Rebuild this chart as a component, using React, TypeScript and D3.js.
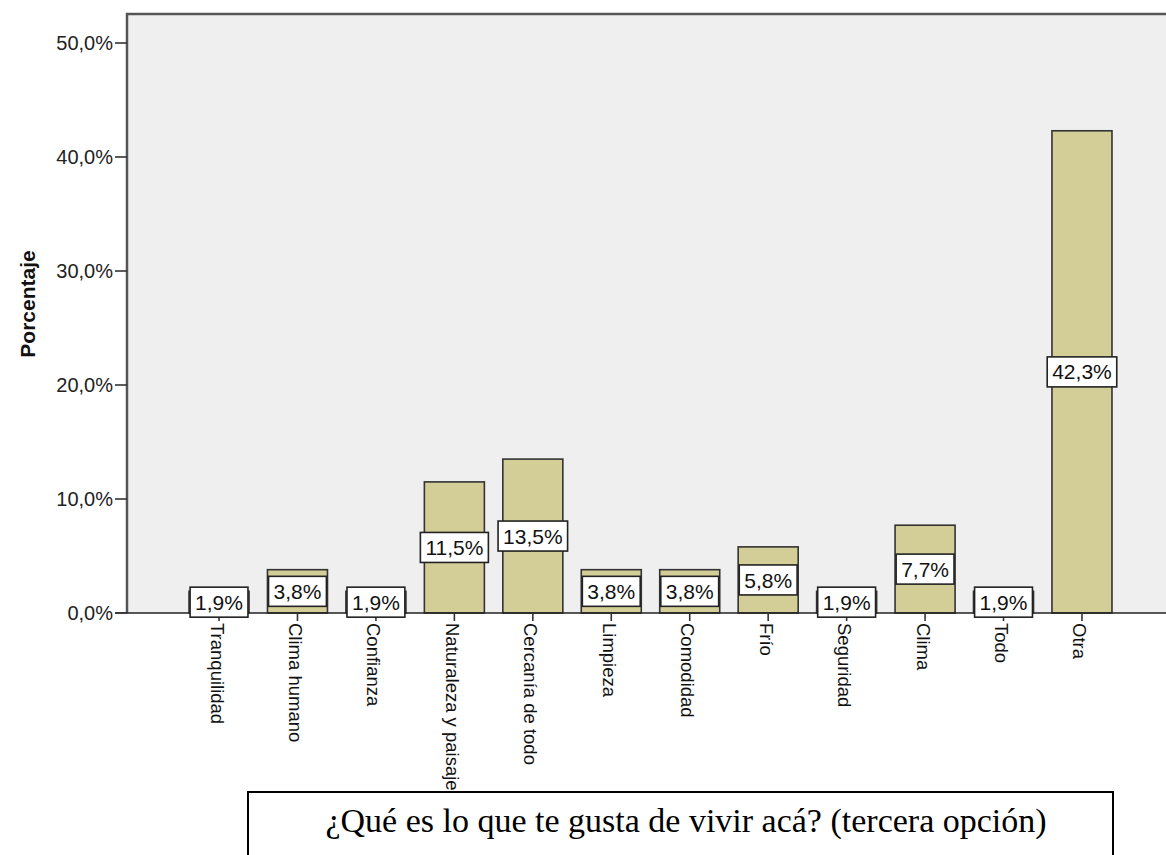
import React, { useEffect, useRef } from "react";
import * as d3 from "d3";

const categories = [
  "Tranquilidad",
  "Clima humano",
  "Confianza",
  "Naturaleza y paisaje",
  "Cercanía de todo",
  "Limpieza",
  "Comodidad",
  "Frío",
  "Seguridad",
  "Clima",
  "Todo",
  "Otra",
];
const values = [1.9, 3.8, 1.9, 11.5, 13.5, 3.8, 3.8, 5.8, 1.9, 7.7, 1.9, 42.3];
const yTicks = [0, 10, 20, 30, 40, 50];
const yTitle = "Porcentaje";
const chartTitle = "¿Qué es lo que te gusta de vivir acá? (tercera opción)";

const W = 1166;
const H = 855;

export default function App() {
  const ref = useRef<SVGSVGElement>(null);

  useEffect(() => {
    document.body.style.margin = "0";
    const svg = d3.select(ref.current);
    svg.selectAll("*").remove();

    const left = 127;
    const top = 14;
    const y0 = 613;
    const y = d3.scaleLinear().domain([0, 50]).range([y0, 43]);
    const x = d3
      .scaleBand<string>()
      .domain(categories)
      .range([219 - 39.2, 1082 + 39.2])
      .paddingInner(0.235)
      .paddingOuter(0.1175);

    const fmt = (v: number) => v.toFixed(1).replace(".", ",") + "%";
    const sans = "Arial, 'Liberation Sans', sans-serif";

    svg
      .append("rect")
      .attr("x", left)
      .attr("y", top)
      .attr("width", W - left + 10)
      .attr("height", y0 - top)
      .attr("fill", "#efefef");
    svg
      .append("path")
      .attr("d", `M${left},${y0}V${top}H${W + 5}`)
      .attr("fill", "none")
      .attr("stroke", "#555")
      .attr("stroke-width", 2.5);

    const g = svg.append("g");
    g.selectAll("rect.bar")
      .data(values)
      .join("rect")
      .attr("class", "bar")
      .attr("x", (_, i) => x(categories[i])!)
      .attr("y", (d) => y(d))
      .attr("width", x.bandwidth())
      .attr("height", (d) => y0 - y(d))
      .attr("fill", "#d3ce97")
      .attr("stroke", "#333")
      .attr("stroke-width", 1.6);

    svg
      .append("line")
      .attr("x1", left - 12)
      .attr("x2", W + 5)
      .attr("y1", y0)
      .attr("y2", y0)
      .attr("stroke", "#222")
      .attr("stroke-width", 1.6);

    const yAxis = svg.append("g");
    yTicks.forEach((t) => {
      yAxis
        .append("line")
        .attr("x1", left - 12)
        .attr("x2", left)
        .attr("y1", y(t))
        .attr("y2", y(t))
        .attr("stroke", "#333")
        .attr("stroke-width", 1.6);
      yAxis
        .append("text")
        .attr("x", left - 14)
        .attr("y", y(t))
        .attr("dy", "0.36em")
        .attr("text-anchor", "end")
        .attr("font-family", sans)
        .attr("font-size", 20)
        .attr("fill", "#222")
        .text(fmt(t));
    });

    svg
      .append("text")
      .attr("transform", `translate(35,${304}) rotate(-90)`)
      .attr("text-anchor", "middle")
      .attr("font-family", sans)
      .attr("font-weight", "bold")
      .attr("font-size", 21)
      .attr("fill", "#111")
      .text(yTitle);

    categories.forEach((c) => {
      const cx = x(c)! + x.bandwidth() / 2;
      svg
        .append("line")
        .attr("x1", cx)
        .attr("x2", cx)
        .attr("y1", y0)
        .attr("y2", y0 + 8)
        .attr("stroke", "#333")
        .attr("stroke-width", 1.6);
      svg
        .append("text")
        .attr("transform", `translate(${cx - 2},${y0 + 10}) rotate(90)`)
        .attr("dy", "0.35em")
        .attr("text-anchor", "start")
        .attr("font-family", sans)
        .attr("font-size", 18.5)
        .attr("fill", "#111")
        .text(c);
    });

    values.forEach((v, i) => {
      const cx = x(categories[i])! + x.bandwidth() / 2;
      const cy = (y(v) + y0) / 2;
      const lg = svg.append("g");
      const rect = lg.append("rect");
      const t = lg
        .append("text")
        .attr("x", cx)
        .attr("y", cy)
        .attr("dy", "0.36em")
        .attr("text-anchor", "middle")
        .attr("font-family", sans)
        .attr("font-size", 21)
        .attr("fill", "#111")
        .text(fmt(v));
      const w = (t.node() as SVGTextElement).getComputedTextLength() + 10;
      rect
        .attr("x", cx - w / 2)
        .attr("y", cy - 15)
        .attr("width", w)
        .attr("height", 30)
        .attr("fill", "#fff")
        .attr("stroke", "#222")
        .attr("stroke-width", 1.6);
    });

    svg
      .append("rect")
      .attr("x", 248)
      .attr("y", 792)
      .attr("width", 1113 - 248)
      .attr("height", 100)
      .attr("fill", "#fff")
      .attr("stroke", "#000")
      .attr("stroke-width", 2);
    svg
      .append("text")
      .attr("x", 686)
      .attr("y", 832)
      .attr("text-anchor", "middle")
      .attr("font-family", "'Times New Roman', 'Liberation Serif', serif")
      .attr("font-size", 34)
      .attr("fill", "#000")
      .text(chartTitle);
  }, []);

  return <svg ref={ref} width={W} height={H} style={{ display: "block" }} />;
}
